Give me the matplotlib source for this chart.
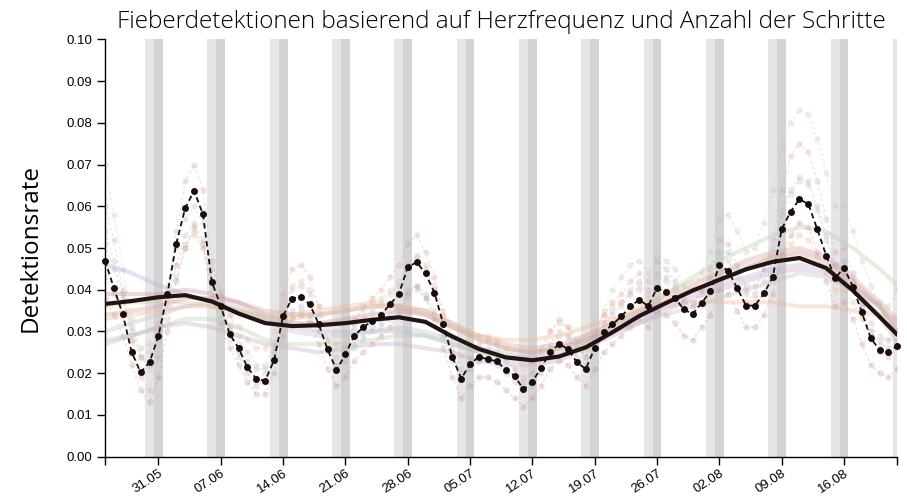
import matplotlib
matplotlib.use("Agg")
import matplotlib.pyplot as plt
import numpy as np

# ---------------- data ----------------
days = list(range(90))                      # 25.05 .. 22.08 (daily)
saturdays = [5, 12, 19, 26, 33, 40, 47, 54, 61, 68, 75, 82, 89]
sundays = [6, 13, 20, 27, 34, 41, 48, 55, 62, 69, 76, 83]
tick_days = [0, 6, 13, 20, 27, 34, 41, 48, 55, 62, 69, 76, 83, 89]
tick_labels = ["", "31.05", "07.06", "14.06", "21.06", "28.06", "05.07", "12.07",
               "19.07", "26.07", "02.08", "09.08", "16.08", ""]

main_rate = [0.0470, 0.0404, 0.0341, 0.0250, 0.0202, 0.0226, 0.0289, 0.0389, 0.0510, 0.0595,
             0.0637, 0.0581, 0.0419, 0.0361, 0.0294, 0.0260, 0.0214, 0.0186, 0.0182, 0.0232,
             0.0337, 0.0379, 0.0383, 0.0365, 0.0318, 0.0257, 0.0208, 0.0245, 0.0290, 0.0310,
             0.0325, 0.0339, 0.0365, 0.0389, 0.0454, 0.0466, 0.0439, 0.0393, 0.0317, 0.0240,
             0.0187, 0.0221, 0.0240, 0.0233, 0.0229, 0.0208, 0.0194, 0.0161, 0.0180, 0.0213,
             0.0251, 0.0270, 0.0258, 0.0226, 0.0210, 0.0260, 0.0298, 0.0317, 0.0336, 0.0360,
             0.0376, 0.0361, 0.0404, 0.0394, 0.0381, 0.0353, 0.0342, 0.0368, 0.0396, 0.0459,
             0.0445, 0.0404, 0.0362, 0.0362, 0.0391, 0.0430, 0.0545, 0.0587, 0.0617, 0.0605,
             0.0545, 0.0482, 0.0427, 0.0453, 0.0407, 0.0346, 0.0284, 0.0256, 0.0250, 0.0266]

smooth_days = [0, 3, 6, 9, 12, 15, 18, 21, 24, 27, 30, 33, 36, 39, 42, 45, 48, 51, 54, 57,
               60, 63, 66, 69, 72, 75, 78, 81, 84, 87, 89]
main_smooth = [0.0366, 0.0373, 0.0382, 0.0387, 0.0372, 0.0343, 0.0320, 0.0313, 0.0315, 0.0320,
               0.0328, 0.0334, 0.0323, 0.0288, 0.0258, 0.0238, 0.0231, 0.0240, 0.0262, 0.0298,
               0.0337, 0.0368, 0.0398, 0.0424, 0.0449, 0.0467, 0.0476, 0.0452, 0.0398, 0.0335,
               0.0292]

faint_colors = ["#d9a0a8", "#b8d0a8", "#b8b0d8", "#f0b890", "#c89090", "#c0c0c8"]

faint_rates = [
    [.060, .052, .040, .028, .019, .016, .024, .038, .054, .066, .070, .064, .047, .039, .031,
     .025, .020, .017, .018, .026, .039, .045, .046, .043, .036, .028, .022, .026, .032, .036,
     .038, .040, .043, .046, .051, .053, .049, .043, .034, .025, .019, .023, .027, .028, .027,
     .024, .021, .018, .020, .025, .030, .033, .031, .027, .024, .029, .034, .037, .039, .042,
     .044, .042, .047, .045, .042, .037, .036, .040, .045, .052, .051, .046, .040, .039, .045,
     .052, .064, .072, .075, .073, .066, .057, .049, .050, .044, .036, .029, .025, .024, .026],
    [.070, .058, .045, .033, .024, .021, .025, .033, .043, .050, .054, .050, .040, .034, .028,
     .024, .021, .019, .020, .024, .030, .034, .035, .033, .030, .026, .022, .023, .026, .028,
     .030, .031, .033, .035, .038, .040, .038, .034, .029, .024, .020, .021, .023, .024, .023,
     .021, .019, .017, .018, .021, .026, .029, .029, .026, .024, .029, .035, .040, .043, .046,
     .047, .044, .048, .047, .045, .041, .040, .044, .049, .057, .058, .054, .049, .050, .056,
     .064, .074, .080, .083, .082, .076, .068, .060, .060, .054, .047, .041, .037, .036, .040],
    [.051, .045, .038, .030, .024, .022, .027, .036, .046, .053, .056, .052, .041, .036, .031,
     .027, .023, .021, .021, .025, .032, .035, .036, .034, .030, .025, .021, .023, .027, .029,
     .031, .032, .034, .036, .040, .041, .039, .035, .029, .023, .019, .021, .023, .023, .022,
     .020, .018, .016, .017, .020, .024, .027, .026, .024, .022, .027, .032, .035, .037, .040,
     .042, .040, .044, .043, .041, .038, .037, .040, .043, .049, .049, .045, .041, .041, .045,
     .050, .059, .064, .067, .066, .060, .053, .046, .047, .042, .036, .030, .027, .026, .028],
    [.043, .039, .034, .028, .024, .025, .030, .038, .046, .051, .053, .050, .042, .038, .034,
     .031, .028, .026, .026, .030, .037, .041, .042, .040, .036, .031, .027, .029, .033, .035,
     .037, .038, .040, .042, .046, .048, .046, .041, .035, .029, .024, .026, .029, .029, .028,
     .026, .024, .021, .023, .026, .030, .032, .031, .028, .026, .030, .034, .036, .037, .039,
     .040, .038, .041, .040, .038, .035, .034, .036, .039, .043, .043, .040, .037, .036, .039,
     .042, .048, .051, .053, .052, .048, .044, .040, .040, .037, .033, .030, .028, .028, .030],
    [.038, .034, .029, .022, .016, .013, .019, .030, .042, .050, .055, .051, .038, .032, .026,
     .022, .018, .015, .015, .020, .029, .033, .034, .032, .027, .021, .017, .019, .023, .025,
     .027, .029, .031, .034, .039, .041, .038, .033, .026, .019, .014, .017, .019, .019, .018,
     .016, .014, .012, .014, .017, .021, .023, .022, .019, .017, .021, .025, .027, .029, .031,
     .033, .031, .035, .034, .032, .029, .028, .031, .034, .040, .039, .035, .031, .031, .034,
     .039, .048, .053, .056, .055, .049, .042, .036, .037, .033, .027, .022, .020, .019, .021],
    [.054, .047, .039, .031, .026, .027, .032, .041, .050, .057, .060, .056, .045, .040, .034,
     .029, .025, .022, .022, .027, .035, .040, .041, .039, .034, .028, .024, .027, .031, .033,
     .035, .037, .039, .041, .046, .048, .045, .040, .033, .026, .021, .024, .026, .026, .025,
     .023, .021, .019, .020, .023, .027, .030, .029, .026, .024, .028, .032, .034, .036, .039,
     .041, .039, .043, .042, .040, .037, .036, .039, .042, .048, .047, .043, .039, .038, .042,
     .047, .058, .063, .066, .065, .059, .052, .046, .047, .043, .037, .032, .029, .028, .030],
]

smooth_colors = ["#b8b0d8", "#b8d0a8", "#d9a0a8", "#f0b890", "#c0c0c8", "#c89090", "#c8a8c8", "#d8c0a0"]
faint_smooth = [
    [0.046, 0.044, 0.041, 0.039, 0.037, 0.035, 0.033, 0.031, 0.030, 0.030, 0.030, 0.030, 0.029, 0.027,
     0.025, 0.024, 0.024, 0.025, 0.027, 0.030, 0.033, 0.036, 0.039, 0.041, 0.043, 0.045, 0.046, 0.045,
     0.041, 0.036, 0.032],
    [0.028, 0.029, 0.031, 0.033, 0.033, 0.031, 0.028, 0.027, 0.027, 0.027, 0.028, 0.029, 0.029, 0.027,
     0.025, 0.023, 0.023, 0.024, 0.027, 0.031, 0.035, 0.039, 0.043, 0.047, 0.050, 0.053, 0.055, 0.054,
     0.050, 0.045, 0.041],
    [0.034, 0.035, 0.036, 0.038, 0.038, 0.037, 0.035, 0.034, 0.034, 0.035, 0.036, 0.036, 0.035, 0.032,
     0.029, 0.027, 0.026, 0.027, 0.029, 0.032, 0.035, 0.038, 0.041, 0.044, 0.047, 0.049, 0.050, 0.048,
     0.043, 0.037, 0.033],
    [0.033, 0.034, 0.035, 0.036, 0.036, 0.035, 0.034, 0.034, 0.035, 0.036, 0.037, 0.036, 0.034, 0.031,
     0.029, 0.028, 0.028, 0.029, 0.031, 0.033, 0.035, 0.036, 0.037, 0.037, 0.037, 0.037, 0.036, 0.036,
     0.035, 0.034, 0.033],
    [0.030, 0.032, 0.034, 0.036, 0.037, 0.036, 0.033, 0.030, 0.029, 0.029, 0.030, 0.031, 0.030, 0.028,
     0.026, 0.025, 0.025, 0.026, 0.028, 0.030, 0.032, 0.034, 0.036, 0.038, 0.040, 0.042, 0.044, 0.043,
     0.040, 0.036, 0.030],
    [0.039, 0.039, 0.039, 0.040, 0.039, 0.037, 0.034, 0.032, 0.032, 0.033, 0.034, 0.035, 0.034, 0.031,
     0.028, 0.026, 0.025, 0.026, 0.028, 0.031, 0.034, 0.037, 0.040, 0.042, 0.045, 0.048, 0.049, 0.047,
     0.042, 0.036, 0.030],
    [0.027, 0.029, 0.031, 0.032, 0.031, 0.029, 0.027, 0.026, 0.025, 0.026, 0.027, 0.027, 0.026, 0.025,
     0.023, 0.022, 0.022, 0.023, 0.026, 0.029, 0.032, 0.035, 0.038, 0.040, 0.042, 0.044, 0.045, 0.044,
     0.040, 0.034, 0.027],
    [0.036, 0.037, 0.037, 0.037, 0.036, 0.035, 0.033, 0.033, 0.034, 0.035, 0.036, 0.036, 0.035, 0.032,
     0.028, 0.026, 0.025, 0.026, 0.029, 0.032, 0.036, 0.039, 0.042, 0.044, 0.046, 0.048, 0.048, 0.046,
     0.041, 0.036, 0.031],
]

title = "Fieberdetektionen basierend auf Herzfrequenz und Anzahl der Schritte"
ylabel = "Detektionsrate"

# ---------------- figure ----------------
plt.rcParams['font.family'] = ['Liberation Sans', 'DejaVu Sans']
fig = plt.figure(figsize=(9.07, 4.96), dpi=100)
ax = fig.add_axes([105 / 907, 1 - 456.7 / 496, (897.4 - 105) / 907, (456.7 - 39.3) / 496])

for d in saturdays:
    ax.axvspan(d - 0.5, d + 0.5, color="#e6e6e6", lw=0, zorder=0)
for d in sundays:
    ax.axvspan(d - 0.5, d + 0.5, color="#d3d3d3", lw=0, zorder=0)

for vals, c in zip(faint_rates, faint_colors):
    ax.plot(days, vals, ls=(0, (2, 2)), lw=1.0, color=c, alpha=0.3, zorder=1)
    ax.plot(days, vals, ls="none", marker="o", ms=4.5, color=c, alpha=0.3, mew=0, zorder=1)

for vals, c in zip(faint_smooth, smooth_colors):
    ax.plot(smooth_days, vals, lw=3, color=c, alpha=0.35, solid_capstyle="round", zorder=2)

ax.plot(days, main_rate, ls=(0, (3, 2)), lw=1.3, color="#1a0d0d", zorder=4, clip_on=False)
ax.plot(days, main_rate, ls="none", marker="o", ms=5, color="#1a0d0d", mew=0, zorder=5, clip_on=False)
ax.plot(smooth_days, main_smooth, lw=3.0, color="#221410", solid_capstyle="round", zorder=3)

ax.set_xlim(0, 89)
ax.set_ylim(0, 0.1)
ax.set_yticks(np.arange(0, 0.1001, 0.01))
ax.set_yticklabels([f"{v:.2f}" for v in np.arange(0, 0.1001, 0.01)])
ax.set_xticks(tick_days)
ax.set_xticklabels(tick_labels, rotation=33, ha="right", va="top", rotation_mode="anchor")

for s in ["top", "right"]:
    ax.spines[s].set_visible(False)
for s in ["left", "bottom"]:
    ax.spines[s].set_linewidth(1.0)
    ax.spines[s].set_color("#000000")
ax.tick_params(axis="both", length=6, width=1.0, labelsize=9.5, colors="#000000")
ax.tick_params(axis="x", pad=1.5)
ax.tick_params(axis="y", pad=3)

ax.set_ylabel(ylabel, fontsize=17.5, family=["Open Sans", "DejaVu Sans"], labelpad=17)
ax.set_title(title, fontsize=17.5, family=["Open Sans", "DejaVu Sans"], fontweight="light", pad=8)

fig.savefig("out.png", dpi=100)
